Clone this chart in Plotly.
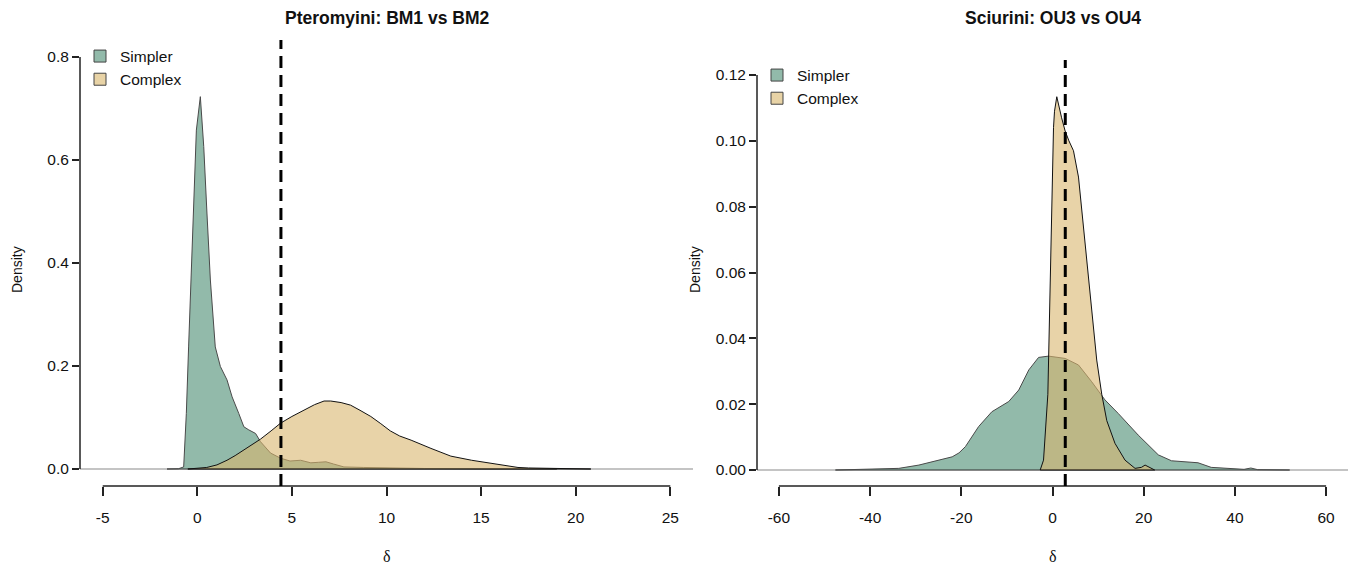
import plotly.graph_objects as go

# ---------------- data ----------------
# Left panel: Pteromyini, BM1 vs BM2
left_simpler_x = [-1.6, -1.0, -0.72, -0.67, -0.58, -0.46, -0.33, -0.2, -0.12, -0.05, 0.16, 0.34,
                  0.51, 0.69, 0.95, 1.22, 1.57, 1.84, 2.19, 2.46, 2.72, 3.08, 3.34, 3.87, 4.4,
                  4.9, 5.46, 6.0, 6.4, 6.8, 7.2, 7.75, 8.8, 10.2, 12.0, 15.0, 19.0]
left_simpler_y = [0.0, 0.0005, 0.004, 0.043, 0.108, 0.237, 0.367, 0.497, 0.594, 0.658, 0.723, 0.626,
                  0.497, 0.367, 0.237, 0.199, 0.173, 0.140, 0.108, 0.082, 0.076, 0.069, 0.053, 0.031, 0.021,
                  0.0155, 0.017, 0.012, 0.013, 0.014, 0.0097, 0.004, 0.003, 0.002, 0.001, 0.0005, 0.0]

left_complex_x = [-0.5, 0.5, 1.04, 1.57, 2.0, 2.46, 3.0, 3.34, 3.9, 4.4, 5.0, 5.64, 6.2, 6.7, 7.05,
                  7.6, 8.1, 8.6, 9.17, 9.7, 10.2, 10.7, 11.3, 12.35, 13.4, 14.5, 15.5, 16.3, 16.95,
                  17.5, 19.0, 20.8]
left_complex_y = [0.0, 0.003, 0.008, 0.017, 0.026, 0.037, 0.050, 0.058, 0.074, 0.089, 0.102, 0.115,
                  0.125, 0.132, 0.132, 0.129, 0.124, 0.114, 0.102, 0.088, 0.074, 0.064, 0.056, 0.040,
                  0.025, 0.017, 0.011, 0.007, 0.003, 0.002, 0.001, 0.0]

# Right panel: Sciurini, OU3 vs OU4
right_simpler_x = [-47.6, -40.9, -33.7, -29.3, -25.5, -22.0, -20.5, -19.1, -16.2, -13.3, -9.6, -7.4,
                   -5.2, -3.06, -0.87, 2.77, 5.7, 8.6, 11.5, 14.4, 18.8, 23.2, 26.1, 31.9, 34.8,
                   39.2, 42.0, 43.5, 45.0, 52.0]
right_simpler_y = [0.0, 0.0002, 0.0005, 0.0015, 0.0028, 0.004, 0.0052, 0.0071, 0.0132, 0.0177, 0.0208,
                   0.0243, 0.0304, 0.0342, 0.0346, 0.0339, 0.0319, 0.0268, 0.0213, 0.0172, 0.0106,
                   0.0046, 0.0028, 0.0022, 0.0008, 0.0003, 0.0002, 0.0006, 0.0001, 0.0]

right_complex_x = [-2.7, -1.97, -1.02, -0.5, -0.15, 0.22, 0.44, 0.94, 2.0, 2.77, 3.6, 4.6, 5.7, 6.8,
                   8.24, 9.7, 10.8, 11.9, 13.7, 15.9, 18.1, 19.5, 20.3, 21.2, 22.4]
right_complex_y = [0.0, 0.003, 0.023, 0.054, 0.084, 0.104, 0.109, 0.1134, 0.107, 0.103, 0.100, 0.097,
                   0.089, 0.074, 0.054, 0.0334, 0.023, 0.015, 0.0081, 0.003, 0.0005, 0.0008, 0.0015,
                   0.0008, 0.0]

observed_delta = [4.42, 2.8]
titles = ["Pteromyini: BM1 vs BM2", "Sciurini: OU3 vs OU4"]
series_names = ["Simpler", "Complex"]
left_xticks = [-5, 0, 5, 10, 15, 20, 25]
left_xtick_text = ["-5", "0", "5", "10", "15", "20", "25"]
left_yticks = [0.0, 0.2, 0.4, 0.6, 0.8]
left_ytick_text = ["0.0", "0.2", "0.4", "0.6", "0.8"]
right_xticks = [-60, -40, -20, 0, 20, 40, 60]
right_xtick_text = ["-60", "-40", "-20", "0", "20", "40", "60"]
right_yticks = [0.00, 0.02, 0.04, 0.06, 0.08, 0.10, 0.12]
right_ytick_text = ["0.00", "0.02", "0.04", "0.06", "0.08", "0.10", "0.12"]

# ---------------- styling ----------------
W, H = 1355, 566
FONT = "Liberation Sans, Arial, Helvetica, sans-serif"
SIMPLER_FILL = "rgba(73,140,113,0.6)"
COMPLEX_FILL = "rgba(217,182,110,0.6)"
SIMPLER_LINE = "#4a4a4a"
COMPLEX_LINE = "#111111"
AXIS_COL = "#222222"


def fx(p):
    return p / W


def fy(p):
    return 1 - p / H


fig = go.Figure()


def closed(xs, ys):
    return list(xs) + [xs[0]], list(ys) + [ys[0]]


panels = [
    ("x", "y", left_simpler_x, left_simpler_y, left_complex_x, left_complex_y, "legend"),
    ("x2", "y2", right_simpler_x, right_simpler_y, right_complex_x, right_complex_y, "legend2"),
]
for xa, ya, sx, sy, cx, cy, lg in panels:
    px_, py_ = closed(sx, sy)
    fig.add_trace(go.Scatter(x=px_, y=py_, xaxis=xa, yaxis=ya, mode="lines", fill="toself",
                             fillcolor=SIMPLER_FILL, line=dict(color=SIMPLER_LINE, width=1),
                             showlegend=False, hoverinfo="skip"))
    px_, py_ = closed(cx, cy)
    fig.add_trace(go.Scatter(x=px_, y=py_, xaxis=xa, yaxis=ya, mode="lines", fill="toself",
                             fillcolor=COMPLEX_FILL, line=dict(color=COMPLEX_LINE, width=1),
                             showlegend=False, hoverinfo="skip"))
    # legend entries
    for name, col in zip(series_names, ["rgb(146,186,170)", "rgb(232,211,166)"]):
        fig.add_trace(go.Scatter(x=[None], y=[None], xaxis=xa, yaxis=ya, mode="markers",
                                 name=name, legend=lg,
                                 marker=dict(symbol="square", size=12, color=col,
                                             line=dict(color="#444444", width=1))))

common_x = dict(showgrid=False, zeroline=False, showline=False, ticks="outside", ticklen=9,
                tickwidth=1.5, tickcolor=AXIS_COL, tickfont=dict(family=FONT, size=15.5, color="#111"),
                ticklabelstandoff=8, automargin=False, fixedrange=True)
common_y = dict(showgrid=False, zeroline=True, zerolinecolor="#c4c4c4", zerolinewidth=1.5,
                showline=False, ticks="outside", ticklen=7, tickwidth=1.5, tickcolor=AXIS_COL,
                tickfont=dict(family=FONT, size=15.5, color="#111"), automargin=False, fixedrange=True)

fig.update_layout(
    width=W, height=H,
    margin=dict(l=0, r=0, t=0, b=0),
    paper_bgcolor="white", plot_bgcolor="white",
    template="none",
    font=dict(family=FONT, size=15, color="#111"),
    xaxis=dict(domain=[fx(80), fx(693)], range=[-6.2, 26.2], tickvals=left_xticks,
               ticktext=left_xtick_text, anchor="y", **common_x),
    yaxis=dict(domain=[fy(486), fy(40)], range=[-0.033, 0.833], tickvals=left_yticks,
               ticktext=left_ytick_text, anchor="x", **common_y),
    xaxis2=dict(domain=[fx(757), fx(1348)], range=[-64.8, 64.8], tickvals=right_xticks,
                ticktext=right_xtick_text, anchor="y2", **common_x),
    yaxis2=dict(domain=[fy(486), fy(60)], range=[-0.00486, 0.12456], tickvals=right_yticks,
                ticktext=right_ytick_text, anchor="x2", **common_y),
    legend=dict(x=fx(80), y=fy(39.5), xanchor="left", yanchor="top", bgcolor="rgba(0,0,0,0)",
                font=dict(family=FONT, size=15.5, color="#111"), tracegroupgap=0,
                itemclick=False, itemdoubleclick=False),
    legend2=dict(x=fx(757), y=fy(58.5), xanchor="left", yanchor="top", bgcolor="rgba(0,0,0,0)",
                 font=dict(family=FONT, size=15.5, color="#111"), tracegroupgap=0,
                 itemclick=False, itemdoubleclick=False),
    showlegend=True,
)

shapes = []
annotations = []
for i, (xa, ya, xt, yt) in enumerate([("x", "y", left_xticks, left_yticks),
                                       ("x2", "y2", right_xticks, right_yticks)]):
    # x-axis line from first to last tick
    shapes.append(dict(type="line", xref=xa, yref=f"{ya} domain", x0=xt[0], x1=xt[-1], y0=0, y1=0,
                       line=dict(color=AXIS_COL, width=1.5)))
    # y-axis line from first to last tick
    shapes.append(dict(type="line", xref=f"{xa} domain", yref=ya, x0=0, x1=0, y0=yt[0], y1=yt[-1],
                       line=dict(color=AXIS_COL, width=1.5)))
    # observed value
    shapes.append(dict(type="line", xref=xa, yref=f"{ya} domain", x0=observed_delta[i],
                       x1=observed_delta[i], y0=0, y1=1,
                       line=dict(color="black", width=3, dash="12px,7px")))
    mid = (xt[0] + xt[-1]) / 2
    annotations.append(dict(text=f"<b>{titles[i]}</b>", xref=xa, x=mid, yref="paper", y=fy(18),
                            showarrow=False, xanchor="center", yanchor="middle",
                            font=dict(family=FONT, size=17.5, color="#111")))
    annotations.append(dict(text="δ", xref=xa, x=mid, yref="paper", y=fy(556),
                            showarrow=False, xanchor="center", yanchor="middle",
                            font=dict(family="Liberation Serif, serif", size=16, color="#111")))
annotations.append(dict(text="Density", xref="paper", x=fx(17), yref="paper", y=fy(270),
                        textangle=-90, showarrow=False, xanchor="center", yanchor="middle",
                        font=dict(family=FONT, size=14, color="#111")))
annotations.append(dict(text="Density", xref="paper", x=fx(695), yref="paper", y=fy(270),
                        textangle=-90, showarrow=False, xanchor="center", yanchor="middle",
                        font=dict(family=FONT, size=14, color="#111")))

fig.update_layout(shapes=shapes, annotations=annotations)
fig.write_html("out.html",
               config={"displayModeBar": False, "staticPlot": False},
               post_script="document.body.style.margin='0';document.body.style.padding='0';"
                           "document.documentElement.style.overflow='hidden';")
